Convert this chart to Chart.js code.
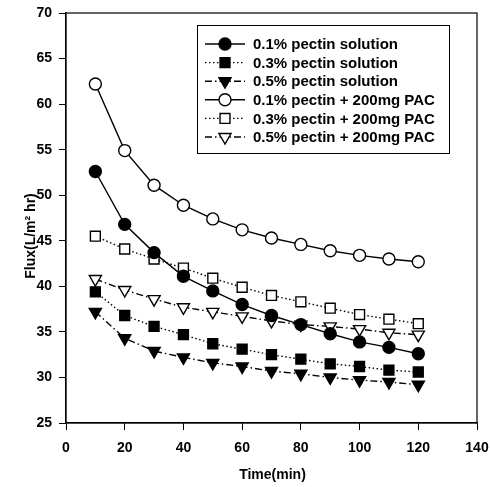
<!DOCTYPE html>
<html>
<head>
<meta charset="utf-8">
<script src="https://cdn.jsdelivr.net/npm/chart.js@4"></script>
<style>
  html, body { margin: 0; padding: 0; background: #fff; }
</style>
</head>
<body>
<canvas id="myChart" width="490" height="487"></canvas>
<script>
// time axis (min)
const times = [10, 20, 30, 40, 50, 60, 70, 80, 90, 100, 110, 120];

// flux values
const pectin01 = [52.6, 46.8, 43.7, 41.1, 39.5, 38.0, 36.8, 35.8, 34.8, 33.9, 33.3, 32.6];
const pectin03 = [39.4, 36.8, 35.6, 34.7, 33.7, 33.1, 32.5, 32.0, 31.5, 31.2, 30.8, 30.6];
const pectin05 = [37.2, 34.3, 32.9, 32.2, 31.6, 31.2, 30.7, 30.4, 30.0, 29.7, 29.5, 29.2];
const pac01 = [62.2, 54.9, 51.1, 48.9, 47.4, 46.2, 45.3, 44.6, 43.9, 43.4, 43.0, 42.7];
const pac03 = [45.5, 44.1, 43.0, 42.0, 40.9, 39.9, 39.0, 38.3, 37.6, 36.9, 36.4, 35.9];
const pac05 = [40.8, 39.6, 38.6, 37.7, 37.2, 36.7, 36.2, 35.8, 35.6, 35.3, 34.9, 34.7];

const labels = ["0.1% pectin solution", "0.3% pectin solution", "0.5% pectin solution",
    "0.1% pectin + 200mg PAC", "0.3% pectin + 200mg PAC", "0.5% pectin + 200mg PAC"];

const FONT = '"Liberation Sans", Arial, sans-serif';
const SOLID = [];
const DOTTED = [1.5, 2.5];
const DASHDOT = [7, 3, 1.5, 3];

function series(label, values, style, filled, dash) {
    let radius = 6, rotation = 0;
    if (style === 'rect') radius = 7;
    if (style === 'triangle') { radius = 7; rotation = 180; }
    return {
        label: label,
        data: times.map((t, i) => ({ x: t, y: values[i] })),
        borderColor: 'black',
        borderWidth: 1.4,
        borderDash: dash,
        pointStyle: style,
        pointRotation: rotation,
        pointRadius: radius,
        pointBorderWidth: 1.4,
        pointBorderColor: 'black',
        pointBackgroundColor: filled ? 'black' : 'white',
        tension: 0
    };
}

const datasets = [
    series(labels[0], pectin01, 'circle', true, SOLID),
    series(labels[1], pectin03, 'rect', true, DOTTED),
    series(labels[2], pectin05, 'triangle', true, DASHDOT),
    series(labels[3], pac01, 'circle', false, SOLID),
    series(labels[4], pac03, 'rect', false, DOTTED),
    series(labels[5], pac05, 'triangle', false, DASHDOT)
];

// frame, axis titles and the boxed legend
const framePlugin = {
    id: 'frame',
    afterDraw(chart) {
        const ctx = chart.ctx;
        const a = chart.chartArea;
        ctx.save();
        ctx.strokeStyle = 'black';
        ctx.lineWidth = 1.2;
        ctx.setLineDash([]);
        ctx.strokeRect(a.left, a.top, a.right - a.left, a.bottom - a.top);

        // axis titles
        ctx.fillStyle = 'black';
        ctx.font = 'bold 14px ' + FONT;
        ctx.textAlign = 'center';
        ctx.textBaseline = 'middle';
        ctx.fillText('Time(min)', (a.left + a.right) / 2 + 1, 475);
        ctx.translate(31, 236);
        ctx.rotate(-Math.PI / 2);
        ctx.fillText('Flux(L/m\u00B2 hr)', 0, 0);
        ctx.restore();

        // legend
        ctx.save();
        ctx.strokeStyle = 'black';
        ctx.lineWidth = 1;
        ctx.fillStyle = 'white';
        ctx.fillRect(197, 25, 252, 128);
        ctx.strokeRect(197.5, 25.5, 252, 128);
        ctx.font = 'bold 15px ' + FONT;
        ctx.textAlign = 'left';
        ctx.textBaseline = 'middle';
        chart.data.datasets.forEach((ds, i) => {
            const y = 44 + i * 18.6;
            ctx.strokeStyle = 'black';
            ctx.lineWidth = ds.borderWidth;
            ctx.setLineDash(ds.borderDash);
            ctx.beginPath();
            ctx.moveTo(205, y);
            ctx.lineTo(245, y);
            ctx.stroke();
            ctx.setLineDash([]);
            ctx.fillStyle = ds.pointBackgroundColor;
            ctx.lineWidth = ds.pointBorderWidth;
            Chart.helpers.drawPoint(ctx, {
                pointStyle: ds.pointStyle,
                rotation: ds.pointRotation,
                radius: ds.pointRadius,
                borderWidth: ds.pointBorderWidth
            }, 225, y);
            ctx.fillStyle = 'black';
            ctx.fillText(ds.label, 253, y + 1);
        });
        ctx.restore();
    }
};

const config = {
    type: 'line',
    data: { datasets: datasets },
    options: {
        responsive: false,
        animation: false,
        layout: { padding: { left: 0, right: 13, top: 13, bottom: 0 } },
        plugins: {
            legend: { display: false },
            tooltip: { enabled: false }
        },
        scales: {
            x: {
                type: 'linear',
                min: 0,
                max: 140,
                afterFit: (scale) => {
                    scale.height = 64;
                    scale.paddingLeft = 0;
                    scale.paddingRight = 0;
                },
                ticks: {
                    stepSize: 20,
                    color: 'black',
                    padding: 10,
                    font: { family: FONT, size: 14, weight: 'bold' }
                },
                grid: { drawOnChartArea: false, drawTicks: true, tickLength: 7, color: 'black' },
                border: { display: true, color: 'black', width: 1.2 }
            },
            y: {
                min: 25,
                max: 70,
                afterFit: (scale) => {
                    scale.width = 66;
                    scale.paddingTop = 0;
                    scale.paddingBottom = 0;
                },
                ticks: {
                    stepSize: 5,
                    color: 'black',
                    padding: 7,
                    font: { family: FONT, size: 14, weight: 'bold' }
                },
                grid: { drawOnChartArea: false, drawTicks: true, tickLength: 7, color: 'black' },
                border: { display: true, color: 'black', width: 1.2 }
            }
        }
    },
    plugins: [framePlugin]
};

const myChart = new Chart(document.getElementById('myChart'), config);
</script>
</body>
</html>
